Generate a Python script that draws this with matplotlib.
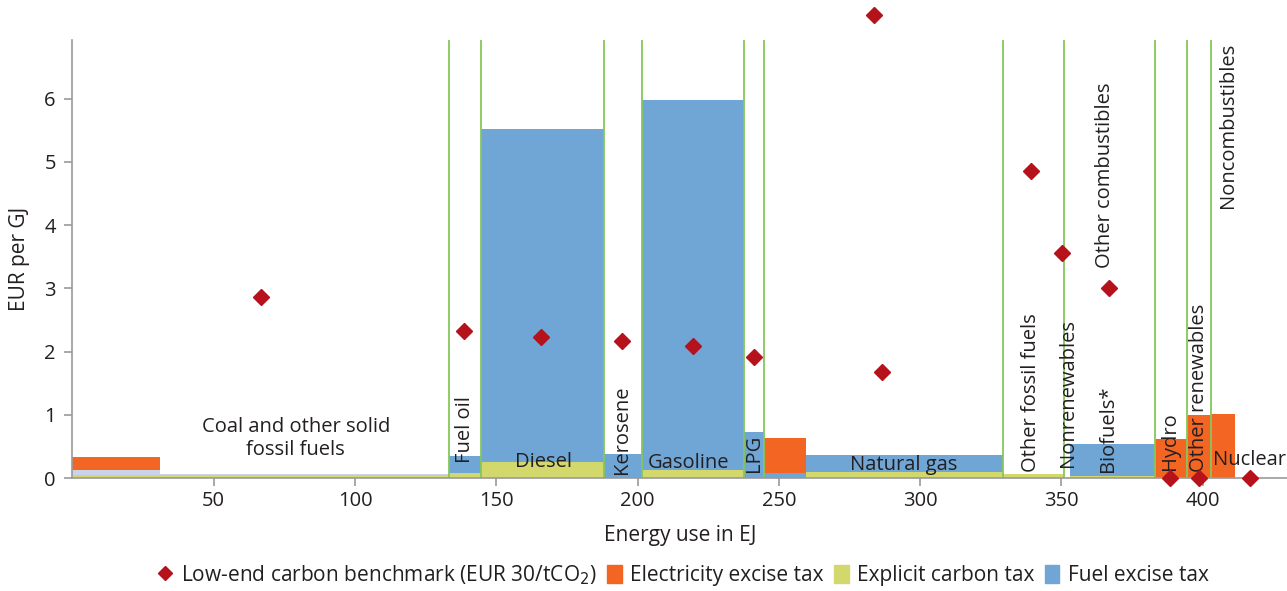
import numpy as np
import matplotlib
matplotlib.use("Agg")
import matplotlib.pyplot as plt
from matplotlib.patches import Patch
from matplotlib.lines import Line2D

plt.rcParams['font.family'] = ['Open Sans', 'DejaVu Sans']

# Energy use (EJ) of each consecutive segment along the x axis
energy_use = [31.0, 102.4, 11.1, 43.5, 13.4, 36.2, 7.0, 15.0, 69.6,
              21.7, 2.1, 30.1, 11.3, 8.4, 8.7, 18.3]
# Effective tax rates (EUR per GJ), stacked bottom to top
carbon_tax = [0.04, 0.04, 0.084, 0.26, 0.0, 0.13, 0.0, 0.0, 0.10,
              0.06, 0.0, 0.03, 0.0, 0.0, 0.0, 0.0]
fuel_excise = [0.0, 0.0, 0.266, 5.26, 0.38, 5.85, 0.72, 0.075, 0.27,
               0.0, 0.0, 0.51, 0.0, 0.0, 0.0, 0.0]
coal_excise = [0.087, 0.03, 0.0, 0.0, 0.0, 0.0, 0.0, 0.0, 0.0,
               0.0, 0.0, 0.0, 0.0, 0.0, 0.0, 0.0]
electricity_tax = [0.20, 0.0, 0.0, 0.0, 0.0, 0.0, 0.0, 0.565, 0.0,
                   0.0, 0.0, 0.0, 0.62, 1.0, 1.01, 0.0]

# Fuel group boundaries (EJ)
group_edges = [133.4, 144.5, 188.0, 201.4, 237.6, 244.6, 329.2, 350.9,
               383.1, 394.4, 402.8]

# Low-end carbon benchmark points (EJ, EUR per GJ)
bench_x = [66.7, 138.6, 165.8, 194.5, 219.6, 241.2, 286.5, 283.7,
           339.2, 350.2, 366.8, 388.4, 398.7, 416.7]
bench_y = [2.87, 2.33, 2.23, 2.17, 2.09, 1.92, 1.68, 7.33,
           4.86, 3.56, 3.01, 0.0, 0.0, 0.0]

C_ORANGE = '#f26522'
C_YELLOW = '#d3d86c'
C_BLUE = '#6fa6d6'
C_LIGHT = '#cbd3ea'
C_RED = '#b5121b'
C_GREEN = '#86c75c'
C_TEXT = '#231f20'

fig = plt.figure(figsize=(12.87, 5.91), dpi=100)
ax = fig.add_axes([0.0563, 0.1912, 0.9437, 0.7411])

widths = np.array(energy_use)
lefts = np.concatenate([[0], np.cumsum(widths)[:-1]])
b0 = np.array(carbon_tax)
b1 = b0 + np.array(fuel_excise)
b2 = b1 + np.array(coal_excise)

ax.bar(lefts, carbon_tax, width=widths, align='edge', color=C_YELLOW, lw=0, zorder=2)
ax.bar(lefts, fuel_excise, width=widths, bottom=b0, align='edge', color=C_BLUE, lw=0, zorder=2)
ax.bar(lefts, coal_excise, width=widths, bottom=b1, align='edge', color=C_LIGHT, lw=0, zorder=2)
ax.bar(lefts, electricity_tax, width=widths, bottom=b2, align='edge', color=C_ORANGE, lw=0, zorder=2)

for e in group_edges:
    ax.axvline(e, color=C_GREEN, lw=1.3, zorder=3)

ax.plot(bench_x, bench_y, ls='none', marker='D', ms=8.5, color=C_RED,
        mec=C_RED, zorder=6, clip_on=False)

ax.set_xlim(0, 429.8)
ax.set_ylim(0, 6.93)
ax.set_xticks([50, 100, 150, 200, 250, 300, 350, 400])
ax.set_yticks([0, 1, 2, 3, 4, 5, 6])
for s in ['top', 'right']:
    ax.spines[s].set_visible(False)
for s in ['left', 'bottom']:
    ax.spines[s].set_color('#9a9a9a')
    ax.spines[s].set_linewidth(1.2)
    ax.spines[s].set_zorder(4)
ax.tick_params(colors='#9a9a9a', labelcolor=C_TEXT, labelsize=14.5,
               length=6, width=1.2)
ax.tick_params(axis='y', pad=6)
ax.set_xlabel('Energy use in EJ', fontsize=15, color=C_TEXT, labelpad=10)
ax.set_ylabel('EUR per GJ', fontsize=15, color=C_TEXT, labelpad=10)

fs = 14.5
ax.text(79, 0.62, 'Coal and other solid\nfossil fuels', ha='center', va='center',
        fontsize=fs, color=C_TEXT, linespacing=1.2, zorder=5)
ax.text(166.6, 0.25, 'Diesel', ha='center', va='center', fontsize=fs, color=C_TEXT, zorder=5)
ax.text(218.0, 0.24, 'Gasoline', ha='center', va='center', fontsize=fs, color=C_TEXT, zorder=5)
ax.text(294.3, 0.2, 'Natural gas', ha='center', va='center', fontsize=fs, color=C_TEXT, zorder=5)
ax.text(416.7, 0.28, 'Nuclear', ha='center', va='center', fontsize=fs, color=C_TEXT, zorder=5)

vertical = [
    (139.0, 0.23, 'Fuel oil'),
    (194.5, 0.07, 'Kerosene'),
    (241.2, 0.10, 'LPG'),
    (339.2, 0.10, 'Other fossil fuels'),
    (352.3, 0.18, 'Nonrenewables'),
    (366.4, 0.10, 'Biofuels*'),
    (365.4, 3.32, 'Other combustibles'),
    (388.4, 0.13, 'Hydro'),
    (398.7, 0.10, 'Other renewables'),
    (408.9, 4.27, 'Noncombustibles'),
]
for x, y, t in vertical:
    ax.text(x, y, t, rotation=90, ha='center', va='bottom', fontsize=fs,
            color=C_TEXT, zorder=5)

handles = [
    Line2D([], [], ls='none', marker='D', ms=7.5, color=C_RED),
    Patch(color=C_ORANGE), Patch(color=C_YELLOW), Patch(color=C_BLUE),
]
labels = ['Low-end carbon benchmark (EUR 30/tCO$_2$)', 'Electricity excise tax',
          'Explicit carbon tax', 'Fuel excise tax']
fig.legend(handles, labels, loc='center', bbox_to_anchor=(0.531, 0.027),
           ncol=4, frameon=False, fontsize=15, handlelength=0.7,
           handleheight=0.9, handletextpad=0.4, columnspacing=0.5,
           labelcolor=C_TEXT)

fig.savefig('out.png', dpi=100)
